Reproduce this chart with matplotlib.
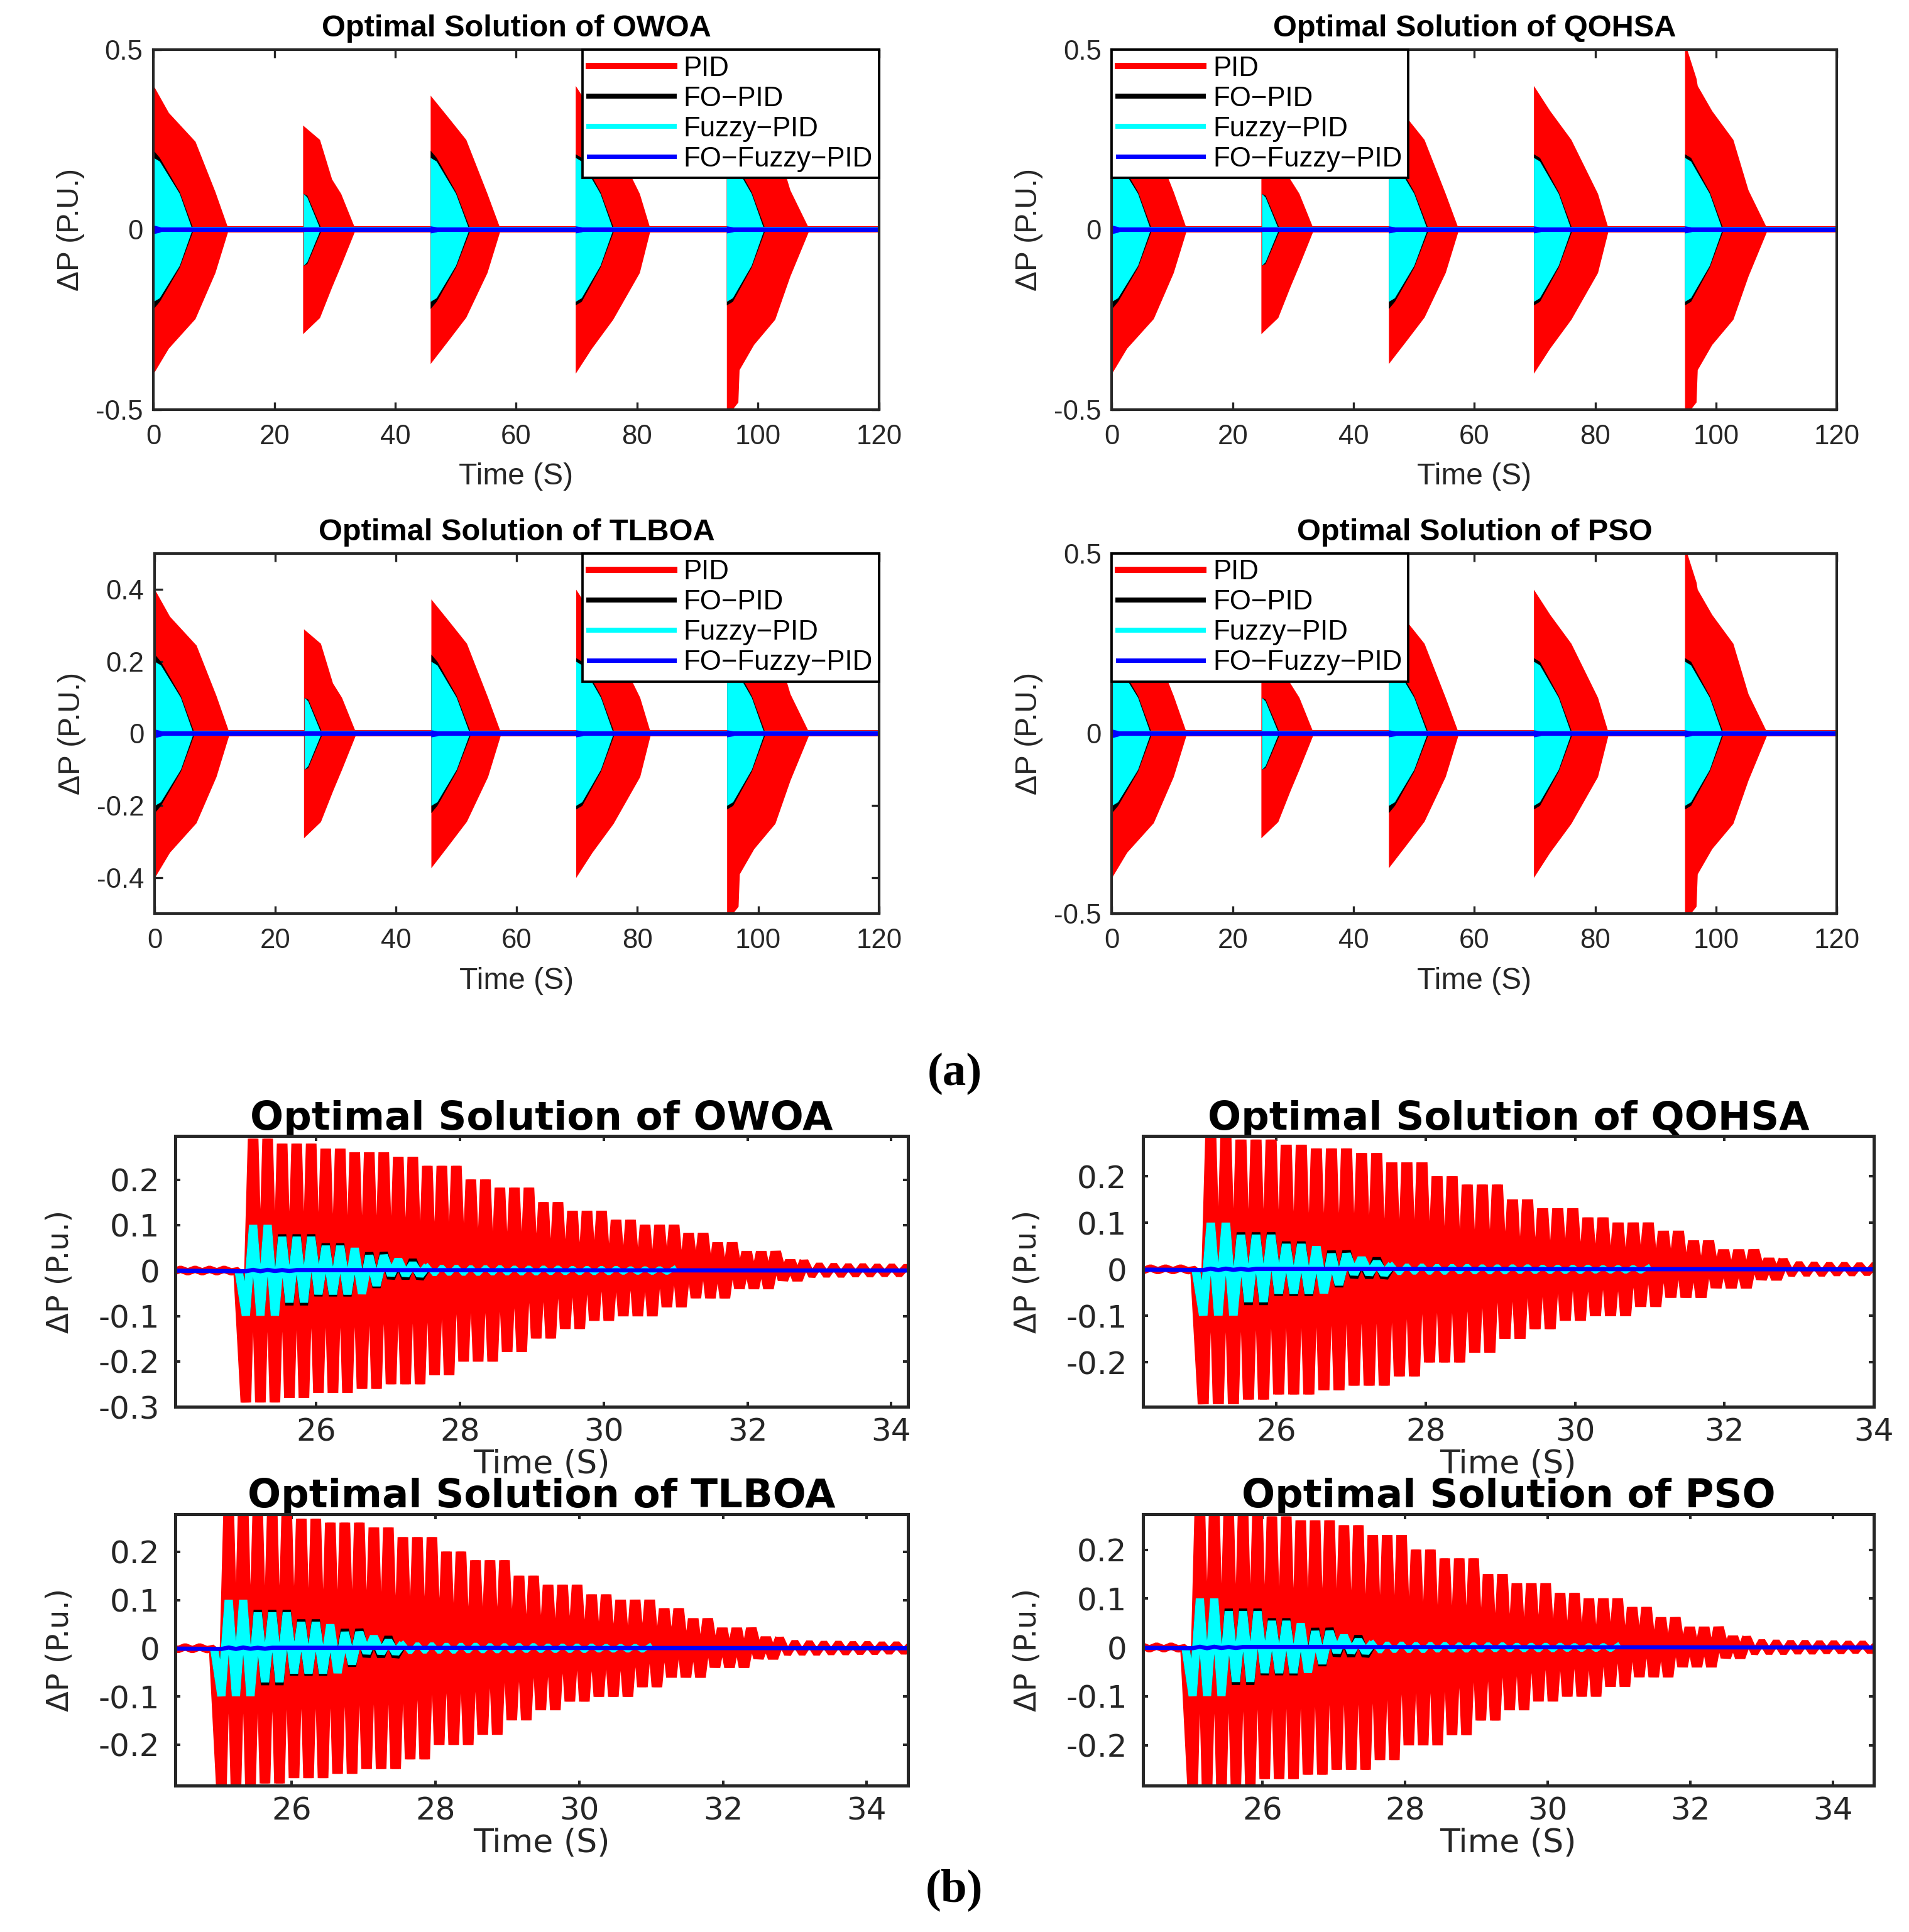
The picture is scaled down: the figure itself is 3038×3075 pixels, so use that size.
import numpy as np
import matplotlib
matplotlib.use("Agg")
import matplotlib.pyplot as plt
from matplotlib.ticker import FuncFormatter, FixedLocator

plt.rcParams["axes.unicode_minus"] = False

# ------------------------------------------------------------------ common
SERIES = ["PID", "FO\u2212PID", "Fuzzy\u2212PID", "FO\u2212Fuzzy\u2212PID"]
COLORS = ["#ff0000", "#000000", "#00ffff", "#0000ff"]
TITLES = ["Optimal Solution of OWOA", "Optimal Solution of QOHSA",
          "Optimal Solution of TLBOA", "Optimal Solution of PSO"]

# ------------------------------------------------------------------ (a) full 0-120 s runs
A_TIME_SPAN = [0.0, 120.0]
A_XTICKS = [0, 20, 40, 60, 80, 100, 120]
A_YLIM = [-0.5, 0.5]
A_YTICKS = [[-0.5, 0, 0.5], [-0.5, 0, 0.5], [-0.4, -0.2, 0, 0.2, 0.4], [-0.5, 0, 0.5]]
A_LEGEND_LOC = ["upper right", "upper left", "upper right", "upper left"]

# envelope knots of every disturbance event (time, upper edge, lower edge)
A_PID_T = [[0.0, 2.5, 6.9, 10.2, 12.4],
           [24.7, 27.5, 29.5, 31.0, 33.4],
           [45.8, 48.7, 51.7, 55.2, 57.4],
           [69.8, 72.5, 76.0, 80.4, 82.2],
           [94.8, 96.7, 96.9, 99.3, 102.8, 105.3, 108.5]]
A_PID_TOP = [[0.40, 0.325, 0.245, 0.105, 0.0],
             [0.29, 0.25, 0.14, 0.10, 0.0],
             [0.373, 0.313, 0.25, 0.10, 0.0],
             [0.40, 0.33, 0.25, 0.10, 0.0],
             [0.52, 0.42, 0.40, 0.33, 0.25, 0.11, 0.0]]
A_PID_BOT = [[-0.40, -0.33, -0.248, -0.12, 0.0],
             [-0.29, -0.245, -0.16, -0.10, 0.0],
             [-0.373, -0.31, -0.244, -0.12, 0.0],
             [-0.40, -0.33, -0.25, -0.12, 0.0],
             [-0.52, -0.48, -0.39, -0.32, -0.25, -0.13, 0.0]]

A_FOPID_T = [[0.0, 1.0, 4.3, 6.6], [24.8, 25.4, 27.8], [45.8, 46.8, 50.0, 52.4],
             [69.8, 70.8, 73.9, 76.2], [94.8, 95.8, 98.9, 101.2]]
A_FOPID_TOP = [[0.22, 0.20, 0.105, 0.0], [0.10, 0.095, 0.0], [0.22, 0.20, 0.105, 0.0],
               [0.21, 0.20, 0.105, 0.0], [0.21, 0.20, 0.105, 0.0]]
A_FOPID_BOT = [[-0.22, -0.20, -0.105, 0.0], [-0.10, -0.095, 0.0], [-0.22, -0.20, -0.105, 0.0],
               [-0.21, -0.20, -0.105, 0.0], [-0.21, -0.20, -0.105, 0.0]]

A_FUZZY_T = [[0.0, 1.0, 4.3, 6.4], [24.8, 25.4, 27.6], [45.8, 46.8, 50.0, 52.2],
             [69.8, 70.8, 73.9, 76.0], [94.8, 95.8, 98.9, 101.0]]
A_FUZZY_TOP = [[0.20, 0.19, 0.10, 0.0], [0.10, 0.09, 0.0], [0.20, 0.19, 0.10, 0.0],
               [0.20, 0.19, 0.10, 0.0], [0.20, 0.19, 0.10, 0.0]]
A_FUZZY_BOT = [[-0.20, -0.19, -0.10, 0.0], [-0.10, -0.09, 0.0], [-0.20, -0.19, -0.10, 0.0],
               [-0.20, -0.19, -0.10, 0.0], [-0.20, -0.19, -0.10, 0.0]]

A_FOFUZZY_T = [[0.0, 1.0, 2.0], [24.8, 25.6, 26.4], [45.8, 46.8, 47.8],
               [69.8, 70.8, 71.8], [94.8, 95.8, 96.8]]
A_FOFUZZY_AMP = [[0.012, 0.008, 0.0], [0.006, 0.004, 0.0], [0.010, 0.007, 0.0],
                 [0.010, 0.007, 0.0], [0.010, 0.007, 0.0]]

# ------------------------------------------------------------------ (b) zoom on the 25 s event
B_XLIM = [(24.04, 34.23), (24.21, 34.0), (24.38, 34.57), (24.32, 34.57)]
B_YLIM = [(-0.300, 0.296), (-0.296, 0.287), (-0.285, 0.278), (-0.283, 0.273)]
B_XTICKS = [26, 28, 30, 32, 34]
B_YTICKS = [[-0.3, -0.2, -0.1, 0, 0.1, 0.2], [-0.2, -0.1, 0, 0.1, 0.2],
            [-0.2, -0.1, 0, 0.1, 0.2], [-0.2, -0.1, 0, 0.1, 0.2]]

B_T_FIRST = 25.02   # time of the first (negative) swing
B_HALF = 0.101      # time between successive swings

# PID swings: negative peaks / positive peaks (alternating, negative first)
B_PID_LOW = [-0.290, -0.290, -0.290, -0.280, -0.280, -0.269, -0.269, -0.269, -0.260, -0.260,
             -0.250, -0.250, -0.250, -0.230, -0.230, -0.200, -0.200, -0.200, -0.179, -0.179,
             -0.149, -0.149, -0.128, -0.128, -0.110, -0.110, -0.100, -0.100, -0.100, -0.080,
             -0.080, -0.060, -0.060, -0.060, -0.039, -0.039, -0.039, -0.020, -0.020]
B_PID_HIGH = [0.290, 0.290, 0.279, 0.279, 0.279, 0.268, 0.268, 0.260, 0.260, 0.260,
              0.250, 0.250, 0.230, 0.230, 0.230, 0.200, 0.200, 0.182, 0.182, 0.182,
              0.150, 0.150, 0.131, 0.131, 0.131, 0.111, 0.111, 0.100, 0.100, 0.100,
              0.082, 0.082, 0.061, 0.061, 0.041, 0.041, 0.041, 0.021, 0.021]
B_PID_TAIL_LOW = [-0.012, -0.011, -0.011, -0.010, -0.010, -0.009, -0.009, -0.008, -0.008]
B_PID_TAIL_HIGH = [0.013, 0.012, 0.011, 0.011, 0.010, 0.010, 0.009, 0.009, 0.008]
B_PID_PRE = [0.003, -0.003, 0.003, -0.003, 0.003, -0.003, 0.003, -0.003, 0.003, -0.003, 0.0]

B_FOPID_LOW = [-0.095, -0.095, -0.095, -0.076, -0.076, -0.056, -0.056, -0.056, -0.047, -0.037,
               -0.017, -0.017, -0.017]
B_FOPID_HIGH = [0.096, 0.096, 0.079, 0.079, 0.079, 0.059, 0.059, 0.045, 0.039, 0.039,
                0.020, 0.023, 0.008]
B_FOPID_TAIL_LOW = [-0.006, -0.005, -0.005, -0.004]
B_FOPID_TAIL_HIGH = [0.006, 0.005, 0.005, 0.004]

B_FUZZY_LOW = [-0.099, -0.099, -0.099, -0.070, -0.070, -0.052, -0.052, -0.052, -0.051, -0.033,
               -0.010, -0.010, -0.010]
B_FUZZY_HIGH = [0.100, 0.100, 0.074, 0.074, 0.074, 0.054, 0.054, 0.049, 0.033, 0.033,
                0.024, 0.015, 0.010]
B_FUZZY_TAIL_LOW = [-0.009, -0.008, -0.008, -0.008, -0.007, -0.007, -0.007, -0.007, -0.006,
                    -0.006, -0.006, -0.006, -0.006, -0.005, -0.005, -0.005, -0.005]
B_FUZZY_TAIL_HIGH = [0.009, 0.009, 0.008, 0.008, 0.008, 0.007, 0.007, 0.007, 0.007,
                     0.006, 0.006, 0.006, 0.006, 0.005, 0.005, 0.005, 0.005]

B_FOFUZZY_LOW = [-0.0015, -0.0015, -0.001, -0.001]
B_FOFUZZY_HIGH = [0.0015, 0.0015, 0.001, 0.001]
B_TIME_SPAN = [23.8, 34.8]

# ------------------------------------------------------------------ layout
FIG_W, FIG_H, DPI = 3038 / 300, 3075 / 300, 300
A_RECTS = [[0.0804, 0.7881, 0.3800, 0.1862], [0.5824, 0.7881, 0.3799, 0.1862],
           [0.0810, 0.5271, 0.3794, 0.1865], [0.5824, 0.5271, 0.3799, 0.1865]]
B_RECTS = [[0.0919, 0.2718, 0.3836, 0.1402], [0.5986, 0.2718, 0.3830, 0.1402],
           [0.0919, 0.0757, 0.3836, 0.1406], [0.5986, 0.0757, 0.3830, 0.1406]]
AXC = "#262626"
FONT_A = "Liberation Sans"
FONT_B = "DejaVu Sans"

fig = plt.figure(figsize=(FIG_W, FIG_H), dpi=DPI)
fmt = FuncFormatter(lambda v, _: f"{v:g}")


def style_axes(ax, lw, tlen, font, size, xpad, ypad):
    for s in ax.spines.values():
        s.set_linewidth(lw)
        s.set_color(AXC)
        s.set_zorder(20)
    ax.tick_params(direction="in", top=True, right=True, length=tlen, width=lw * 0.8,
                   color=AXC, labelcolor=AXC, labelsize=size)
    ax.tick_params(axis="x", pad=xpad)
    ax.tick_params(axis="y", pad=ypad)
    for lab in ax.get_xticklabels() + ax.get_yticklabels():
        lab.set_fontfamily(font)


# ------------------------------------------------------------------ panel (a)
for k in range(4):
    ax = fig.add_axes(A_RECTS[k])
    z = 0.0 * np.array(A_TIME_SPAN)
    for t, lo, hi in zip(A_PID_T, A_PID_BOT, A_PID_TOP):
        ax.fill_between(t, lo, hi, color=COLORS[0], lw=0, zorder=1)
    l_pid, = ax.plot(A_TIME_SPAN, z, color=COLORS[0], lw=2.4, zorder=2, label=SERIES[0])
    for t, lo, hi in zip(A_FOPID_T, A_FOPID_BOT, A_FOPID_TOP):
        ax.fill_between(t, lo, hi, color=COLORS[1], lw=0, zorder=3)
    l_fo, = ax.plot(A_TIME_SPAN, z, color=COLORS[1], lw=1.9, zorder=3, label=SERIES[1])
    for t, lo, hi in zip(A_FUZZY_T, A_FUZZY_BOT, A_FUZZY_TOP):
        ax.fill_between(t, lo, hi, color=COLORS[2], lw=0, zorder=4)
    l_fz, = ax.plot(A_TIME_SPAN, z, color=COLORS[2], lw=1.9, zorder=4, label=SERIES[2])
    for t, amp in zip(A_FOFUZZY_T, A_FOFUZZY_AMP):
        amp = np.array(amp)
        ax.fill_between(t, -amp, amp, color=COLORS[3], lw=0, zorder=5)
    l_ff, = ax.plot(A_TIME_SPAN, z, color=COLORS[3], lw=1.7, zorder=5, label=SERIES[3])

    ax.set_xlim(A_TIME_SPAN)
    ax.set_ylim(A_YLIM)
    ax.xaxis.set_major_locator(FixedLocator(A_XTICKS))
    ax.yaxis.set_major_locator(FixedLocator(A_YTICKS[k]))
    ax.xaxis.set_major_formatter(fmt)
    ax.yaxis.set_major_formatter(fmt)
    style_axes(ax, 1.0, 3.0, FONT_A, 10.5, 5.5, 4.0)
    ax.set_title(TITLES[k], fontfamily=FONT_A, fontweight="bold", fontsize=11.7, pad=5, color="black")
    ax.set_xlabel("Time (S)", fontfamily=FONT_A, fontsize=11.5, color=AXC, labelpad=5)
    ax.set_ylabel("\u0394P (P.U.)", fontfamily=FONT_A, fontsize=11.5, color=AXC, labelpad=4)
    leg = ax.legend(handles=[l_pid, l_fo, l_fz, l_ff], loc=A_LEGEND_LOC[k],
                    prop={"family": FONT_A, "size": 10.5}, frameon=True, fancybox=False,
                    borderaxespad=0.0, borderpad=0.22, labelspacing=0.16,
                    handlelength=3.1, handletextpad=0.35, framealpha=1.0)
    leg.get_frame().set_edgecolor("black")
    leg.get_frame().set_linewidth(0.9)
    leg.set_zorder(30)
    for txt in leg.get_texts():
        txt.set_color("black")


# ------------------------------------------------------------------ panel (b)
def swing_series(lows, highs, t_start):
    n = min(len(lows), len(highs))
    vals = np.empty(2 * n)
    vals[0::2] = lows[:n]
    vals[1::2] = highs[:n]
    t = t_start + B_HALF * np.arange(2 * n)
    return t, vals


def seconds_to_points(sec, ax):
    w_in = ax.get_position().width * FIG_W
    x0, x1 = ax.get_xlim()
    return sec / (x1 - x0) * w_in * 72.0


for k in range(4):
    ax = fig.add_axes(B_RECTS[k])
    ax.set_xlim(B_XLIM[k])
    ax.set_ylim(B_YLIM[k])
    lw_red = seconds_to_points(0.148, ax)
    lw_cy = seconds_to_points(0.115, ax)

    # PID: pre-event ripple + main swings + tail
    n_pre = len(B_PID_PRE)
    t_pre = B_T_FIRST - B_HALF * np.arange(n_pre, 0, -1)
    t_main, v_main = swing_series(B_PID_LOW, B_PID_HIGH, B_T_FIRST)
    t_tail, v_tail = swing_series(B_PID_TAIL_LOW, B_PID_TAIL_HIGH, t_main[-1] + B_HALF)
    t_all = np.concatenate([[B_TIME_SPAN[0]], t_pre, t_main, t_tail, [B_TIME_SPAN[1]]])
    v_all = np.concatenate([[0.0], B_PID_PRE, v_main, v_tail, [0.0]])
    ax.plot(t_all, v_all, color=COLORS[0], lw=2.8, zorder=1, solid_joinstyle="bevel")
    ax.plot(np.concatenate([[t_pre[-1]], t_main]), np.concatenate([[B_PID_PRE[-1]], v_main]),
            color=COLORS[0], lw=lw_red, zorder=2, solid_joinstyle="bevel", solid_capstyle="butt")

    # FO-PID and Fuzzy-PID
    for lows, highs, tl, th, col, zo in [
            (B_FOPID_LOW, B_FOPID_HIGH, B_FOPID_TAIL_LOW, B_FOPID_TAIL_HIGH, COLORS[1], 3),
            (B_FUZZY_LOW, B_FUZZY_HIGH, B_FUZZY_TAIL_LOW, B_FUZZY_TAIL_HIGH, COLORS[2], 4)]:
        t_m, v_m = swing_series(lows, highs, B_T_FIRST)
        t_t, v_t = swing_series(tl, th, t_m[-1] + B_HALF)
        t_m = np.concatenate([[B_T_FIRST - B_HALF], t_m])
        v_m = np.concatenate([[0.0], v_m])
        ax.plot(np.concatenate([[t_m[-1]], t_t]), np.concatenate([[v_m[-1]], v_t]),
                color=col, lw=1.7, zorder=zo, solid_joinstyle="bevel")
        ax.plot(t_m, v_m, color=col, lw=lw_cy, zorder=zo, solid_joinstyle="bevel",
                solid_capstyle="butt")

    # FO-Fuzzy-PID
    t_b, v_b = swing_series(B_FOFUZZY_LOW, B_FOFUZZY_HIGH, B_T_FIRST)
    ax.plot(np.concatenate([[B_TIME_SPAN[0]], t_b, [B_TIME_SPAN[1]]]),
            np.concatenate([[0.0], v_b, [0.0]]), color=COLORS[3], lw=1.6, zorder=6)

    ax.xaxis.set_major_locator(FixedLocator(B_XTICKS))
    ax.yaxis.set_major_locator(FixedLocator(B_YTICKS[k]))
    ax.xaxis.set_major_formatter(fmt)
    ax.yaxis.set_major_formatter(fmt)
    style_axes(ax, 1.2, 2.0, FONT_B, 12.0, 4.0, 6.0)
    ax.set_title(TITLES[k], fontfamily=FONT_B, fontweight="bold", fontsize=15, pad=2.5, color="black")
    ax.set_xlabel("Time (S)", fontfamily=FONT_B, fontsize=12.5, color=AXC, labelpad=0.5)
    ax.set_ylabel("\u0394P (P.u.)", fontfamily=FONT_B, fontsize=11.5, color=AXC, labelpad=9)

fig.text(0.5, 0.4443, "(a)", ha="center", va="center", fontfamily="Liberation Serif",
         fontweight="bold", fontsize=18, color="black")
fig.text(0.5, 0.0216, "(b)", ha="center", va="center", fontfamily="Liberation Serif",
         fontweight="bold", fontsize=18, color="black")

fig.savefig("out.png", dpi=DPI)
